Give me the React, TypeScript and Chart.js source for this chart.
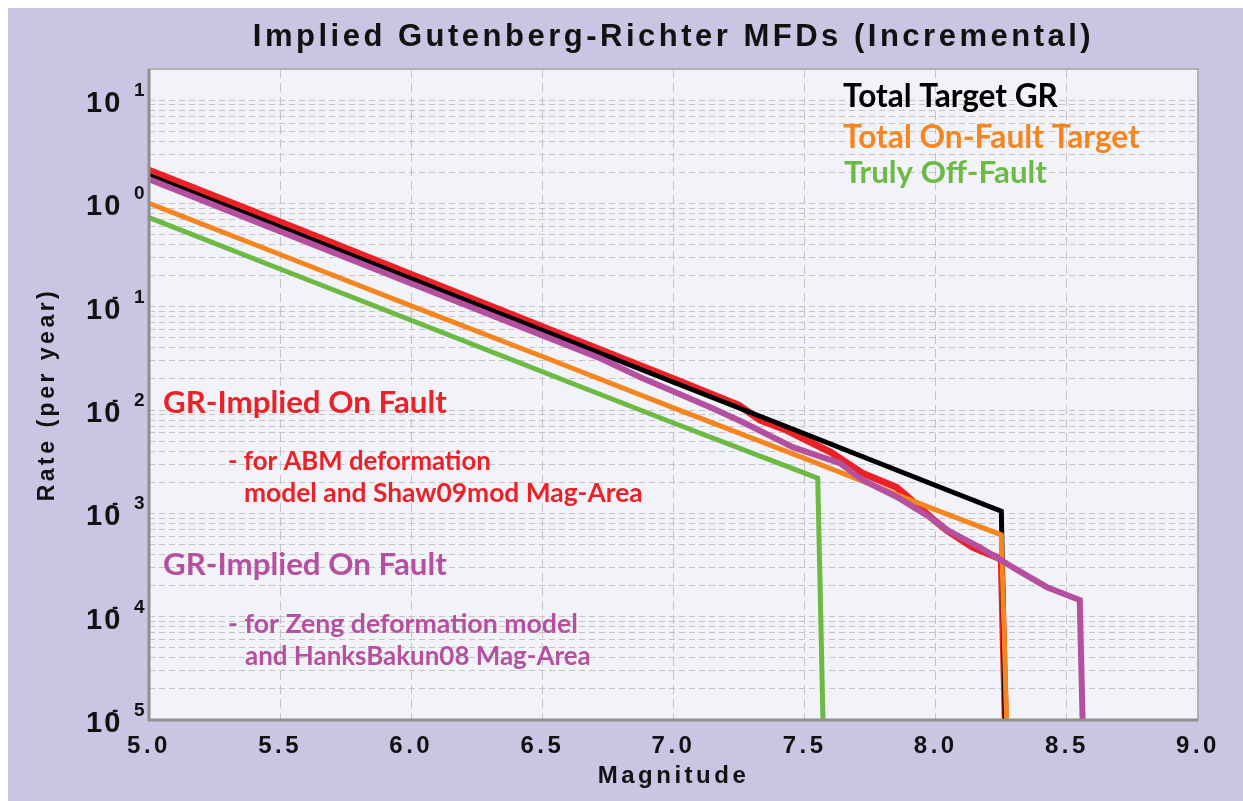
import React, { useEffect, useRef } from "react";
import { Chart, registerables } from "chart.js";

Chart.register(...registerables);

// ---------- data ----------
const X_MIN = 5.0;
const X_MAX = 9.0;
const X_STEP = 0.5;
const Y_MIN = 1e-5;
const Y_MAX = 20;
const Y_DECADES = [-5, -4, -3, -2, -1, 0, 1];
const Y_MANTISSAS = [1, 2, 3, 4, 5, 6, 7, 8, 9];

const TOTAL_GR_MAG = [5.0, 5.5, 6.0, 6.5, 7.0, 7.5, 8.0, 8.25, 8.265];
const TOTAL_GR_RATE = [1.86, 0.59, 0.186, 0.059, 0.0186, 0.0059, 0.00186, 0.00105, 1e-5];

const ON_FAULT_MAG = [5.0, 5.5, 6.0, 6.5, 7.0, 7.5, 8.0, 8.25, 8.27];
const ON_FAULT_RATE = [1.0, 0.32, 0.102, 0.033, 0.0105, 0.0034, 0.00108, 0.00062, 1e-5];

const OFF_FAULT_MAG = [5.0, 5.5, 6.0, 6.5, 7.0, 7.5, 7.55, 7.57];
const OFF_FAULT_RATE = [0.73, 0.232, 0.074, 0.0235, 0.0075, 0.00245, 0.00219, 1e-5];

const ABM_MAG = [5.0, 5.5, 6.0, 6.5, 7.0, 7.25, 7.33, 7.43, 7.6, 7.72, 7.85, 7.9, 7.98, 8.04, 8.14, 8.25, 8.265];
const ABM_RATE = [2.09, 0.66, 0.205, 0.064, 0.0201, 0.0111, 0.008, 0.0064, 0.0039, 0.00245, 0.00179, 0.0014, 0.00092, 0.00069, 0.00047, 0.00036, 1e-5];

const ZENG_MAG = [5.0, 5.5, 6.0, 6.5, 6.72, 6.88, 7.14, 7.265, 7.455, 7.634, 7.722, 7.852, 7.977, 8.042, 8.168, 8.294, 8.424, 8.549, 8.56];
const ZENG_RATE = [1.71, 0.536, 0.168, 0.0528, 0.0317, 0.0204, 0.01064, 0.00762, 0.00437, 0.00306, 0.00209, 0.00144, 0.00092, 0.00069, 0.00047, 0.0003, 0.000193, 0.000145, 1e-5];

const TITLE = "Implied Gutenberg-Richter MFDs (Incremental)";
const X_TITLE = "Magnitude";
const Y_TITLE = "Rate (per year)";

// ---------- styles ----------
const OUTER_BG = "#c8c6e3";
const PLOT_BG = "#f2f3f8";
const C_BLACK = "#000000";
const C_ORANGE = "#f5861f";
const C_GREEN = "#6cb944";
const C_RED = "#ec2027";
const C_PURPLE = "#b4509f";
const AXIS_FONT = "'Liberation Sans', Arial, Helvetica, sans-serif";
const NOTE_FONT = "Lato, 'Open Sans', sans-serif";

const W = 1235;
const H = 793;

function fitText(ctx: CanvasRenderingContext2D, text: string, x: number, y: number, width: number, color: string) {
  const base = 26;
  ctx.font = `700 ${base}px ${NOTE_FONT}`;
  const w = ctx.measureText(text).width;
  const size = (base * width) / w;
  ctx.font = `700 ${size}px ${NOTE_FONT}`;
  ctx.fillStyle = color;
  ctx.textAlign = "left";
  ctx.textBaseline = "alphabetic";
  ctx.fillText(text, x, y);
}

const decorPlugin = {
  id: "decor",
  beforeDraw(chart: any) {
    const { ctx, chartArea: a } = chart;
    ctx.save();
    ctx.fillStyle = PLOT_BG;
    ctx.fillRect(a.left, a.top, a.right - a.left, a.bottom - a.top);
    ctx.restore();
    ctx.letterSpacing = "3.5px";
  },
  beforeDatasetsDraw(chart: any) {
    chart.ctx.letterSpacing = "0px";
  },
  afterDraw(chart: any) {
    const { ctx, chartArea: a, scales } = chart;
    ctx.save();
    ctx.letterSpacing = "0px";
    // frame
    ctx.strokeStyle = "#b0b0b0";
    ctx.lineWidth = 2;
    ctx.strokeRect(a.left, a.top, a.right - a.left, a.bottom - a.top);
    ctx.strokeStyle = "#8f8f8f";
    ctx.lineWidth = 3;
    ctx.beginPath();
    ctx.moveTo(a.left, a.top);
    ctx.lineTo(a.left, a.bottom);
    ctx.lineTo(a.right, a.bottom);
    ctx.stroke();

    // y tick labels 10^n
    const ys = scales.y;
    ctx.fillStyle = "#111";
    ctx.textAlign = "left";
    ctx.textBaseline = "alphabetic";
    for (const d of Y_DECADES) {
      const py = ys.getPixelForValue(Math.pow(10, d));
      ctx.letterSpacing = "2px";
      ctx.font = `bold 29px ${AXIS_FONT}`;
      ctx.fillText("10", a.left - 63, py + 12);
      ctx.letterSpacing = "0px";
      ctx.font = `bold 19px ${AXIS_FONT}`;
      if (d < 0) ctx.fillText("-", a.left - 37, py - 4);
      ctx.fillText(String(Math.abs(d)), a.left - 15, py - 4);
    }

    // annotations
    const L = a.left;
    fitText(ctx, "Total Target GR", L + 694, 99, 215, C_BLACK);
    fitText(ctx, "Total On-Fault Target", L + 694, 140, 297, C_ORANGE);
    fitText(ctx, "Truly Off-Fault", L + 695, 175, 203, C_GREEN);

    fitText(ctx, "GR-Implied On Fault", L + 14, 405, 284, C_RED);
    fitText(ctx, "- for ABM deformation", L + 79, 462, 263, C_RED);
    fitText(ctx, "model and Shaw09mod Mag-Area", L + 95, 494, 399, C_RED);

    fitText(ctx, "GR-Implied On Fault", L + 14, 567, 284, C_PURPLE);
    fitText(ctx, "- for Zeng deformation model", L + 79, 625, 350, C_PURPLE);
    fitText(ctx, "and HanksBakun08 Mag-Area", L + 96, 657, 346, C_PURPLE);
    ctx.restore();
  },
};

function series(label: string, mags: number[], rates: number[], color: string, width: number, order: number) {
  return {
    label,
    data: mags.map((m, i) => ({ x: m, y: rates[i] })),
    borderColor: color,
    backgroundColor: color,
    borderWidth: width,
    pointRadius: 0,
    pointHoverRadius: 0,
    fill: false,
    tension: 0,
    borderJoinStyle: "miter" as const,
    order,
  };
}

export default function App() {
  const ref = useRef<HTMLCanvasElement | null>(null);

  useEffect(() => {
    if (!ref.current) return;
    const yTicks: number[] = [];
    for (const d of Y_DECADES) {
      for (const m of Y_MANTISSAS) {
        const v = m * Math.pow(10, d);
        if (v <= Y_MAX * 1.0001) yTicks.push(v);
      }
    }

    const chart = new Chart(ref.current, {
      type: "line",
      data: {
        datasets: [
          series("Total Target GR", TOTAL_GR_MAG, TOTAL_GR_RATE, C_BLACK, 5, 2),
          series("Total On-Fault Target", ON_FAULT_MAG, ON_FAULT_RATE, C_ORANGE, 5, 1),
          series("Truly Off-Fault", OFF_FAULT_MAG, OFF_FAULT_RATE, C_GREEN, 5, 4),
          series("GR-Implied On Fault (ABM, Shaw09mod)", ABM_MAG, ABM_RATE, C_RED, 7, 3),
          series("GR-Implied On Fault (Zeng, HanksBakun08)", ZENG_MAG, ZENG_RATE, C_PURPLE, 6, 0),
        ],
      },
      options: {
        animation: false,
        responsive: false,
        maintainAspectRatio: false,
        events: [],
        layout: { padding: { left: 0, top: 0, right: 45, bottom: 0 } },
        plugins: {
          legend: { display: false },
          tooltip: { enabled: false },
          title: {
            display: true,
            text: TITLE,
            fullSize: false,
            color: "#111",
            font: { family: AXIS_FONT, size: 31, weight: "bold" },
            padding: { top: 10.9, bottom: 12.9 },
          },
        },
        scales: {
          x: {
            type: "linear",
            min: X_MIN,
            max: X_MAX,
            afterFit: (s: any) => {
              s.height = 81;
            },
            ticks: {
              stepSize: X_STEP,
              autoSkip: false,
              maxRotation: 0,
              padding: 12.1,
              color: "#111",
              font: { family: AXIS_FONT, size: 24, weight: "bold" },
              callback: (v: any) => Number(v).toFixed(1),
            },
            grid: { color: "#c4c4c4", lineWidth: 1, drawTicks: false },
            border: { display: false, dash: [9, 5] },
            title: {
              display: true,
              text: X_TITLE,
              color: "#111",
              font: { family: AXIS_FONT, size: 24, weight: "bold" },
              padding: { top: 0, bottom: 10.6 },
            },
          },
          y: {
            type: "logarithmic",
            min: Y_MIN,
            max: Y_MAX,
            afterFit: (s: any) => {
              s.width = 141;
            },
            afterBuildTicks: (s: any) => {
              s.ticks = yTicks.map((v) => ({ value: v }));
            },
            ticks: { display: false },
            grid: { color: "#c4c4c4", lineWidth: 1, drawTicks: false },
            border: { display: false, dash: [6, 4] },
            title: {
              display: true,
              text: Y_TITLE,
              color: "#111",
              font: { family: AXIS_FONT, size: 23, weight: "bold" },
              padding: { top: 26.2, bottom: 0 },
            },
          },
        },
      },
      plugins: [decorPlugin],
    } as any);

    return () => chart.destroy();
  }, []);

  return (
    <div
      style={{
        position: "fixed",
        left: 8,
        top: 8,
        width: W,
        height: H,
        background: OUTER_BG,
        overflow: "hidden",
      }}
    >
      <canvas ref={ref} width={W} height={H} style={{ display: "block", width: W, height: H }} />
    </div>
  );
}
